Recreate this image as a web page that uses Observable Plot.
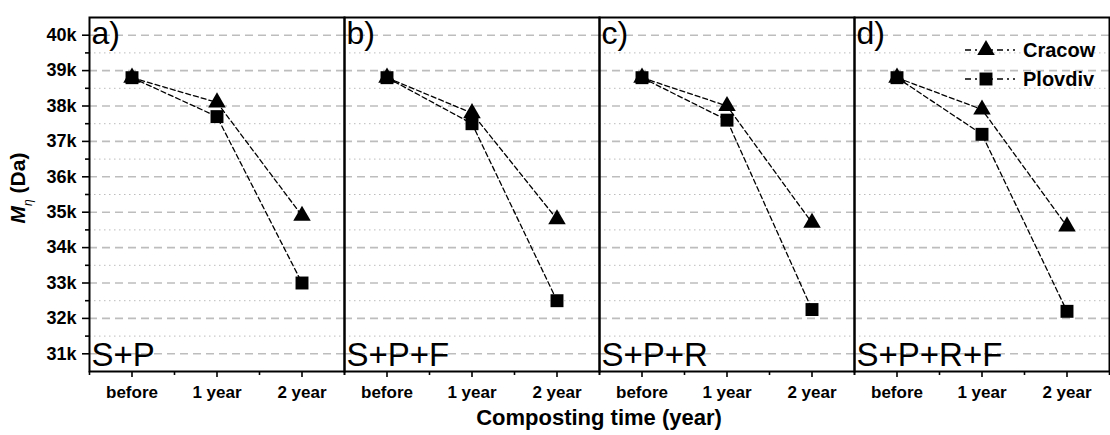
<!DOCTYPE html>
<html>
<head>
<meta charset="utf-8">
<script src="https://cdn.jsdelivr.net/npm/d3@7"></script>
<script src="https://cdn.jsdelivr.net/npm/@observablehq/plot@0.6"></script>
<style>
  html, body { margin: 0; padding: 0; background: white; overflow: hidden; }
  #chart { width: 1110px; height: 435px; }
</style>
</head>
<body>
<div id="chart"></div>
<script>
// ---- data ----
const panels = ["a)", "b)", "c)", "d)"];
const treatments = ["S+P", "S+P+F", "S+P+R", "S+P+R+F"];
const times = ["before", "1 year", "2 year"];
const seriesNames = ["Cracow", "Plovdiv"];
// Mη (Da) per panel, per composting time
const cracow = [
  [38800, 38100, 34900],
  [38800, 37800, 34800],
  [38800, 38000, 34700],
  [38800, 37900, 34600]
];
const plovdiv = [
  [38800, 37700, 33000],
  [38800, 37500, 32500],
  [38800, 37600, 32250],
  [38800, 37200, 32200]
];
const yTicks = [31000, 32000, 33000, 34000, 35000, 36000, 37000, 38000, 39000, 40000];
const yMinorTicks = [31500, 32500, 33500, 34500, 35500, 36500, 37500, 38500, 39500];

// ---- table ----
const rows = [];
panels.forEach((p, i) => {
  times.forEach((t, j) => {
    rows.push({panel: p, series: seriesNames[0], xi: j, value: cracow[i][j]});
    rows.push({panel: p, series: seriesNames[1], xi: j, value: plovdiv[i][j]});
  });
});
const labels = panels.map((p, i) => ({panel: p, treatment: treatments[i]}));
const xIdx = times.map((t, i) => i);
const xMinor = [-0.5].concat(times.map((t, i) => i + 0.5));

const font = "'Liberation Sans', Arial, sans-serif";

const plot = Plot.plot({
  width: 1110,
  height: 435,
  marginLeft: 89,
  marginRight: 1,
  marginTop: 17,
  marginBottom: 64,
  style: {fontFamily: font, color: "black", background: "white", overflow: "visible"},
  fx: {domain: panels, padding: 0, axis: null, label: null},
  x: {domain: [-0.5, times.length - 0.5], axis: null},
  y: {domain: [30500, 40500], axis: null},
  marks: [
    Plot.gridY(yMinorTicks, {stroke: "#bcbcbc", strokeOpacity: 1, strokeWidth: 1, strokeDasharray: "1.5,3.5"}),
    Plot.gridY(yTicks, {stroke: "#bdbdbd", strokeOpacity: 1, strokeWidth: 1.6, strokeDasharray: "8,5"}),
    Plot.axisY({ticks: yTicks, tickFormat: d => d / 1000 + "k", tickSize: 7, tickPadding: 6,
      fontSize: 18, fontWeight: "bold", strokeWidth: 1.6, label: null}),
    Plot.axisY({ticks: yMinorTicks, tickFormat: () => "", tickSize: 4, strokeWidth: 1.6, label: null}),
    Plot.axisX({ticks: xIdx, tickFormat: i => times[i], tickSize: 6, tickPadding: 8,
      fontSize: 17, fontWeight: "bold", strokeWidth: 1.6, label: null}),
    Plot.axisX({ticks: xMinor, tickFormat: () => "", tickSize: 4, strokeWidth: 1.6, label: null}),
    Plot.line(rows, {fx: "panel", x: "xi", y: "value", z: "series", stroke: "black",
      strokeWidth: 1.3, strokeDasharray: "5,3"}),
    Plot.dot(rows.filter(d => d.series === seriesNames[1]), {fx: "panel", x: "xi", y: "value",
      symbol: "square", r: 7.3, fill: "black", stroke: "none"}),
    Plot.dot(rows.filter(d => d.series === seriesNames[0]), {fx: "panel", x: "xi", y: "value",
      symbol: "triangle", r: 6.5, fill: "black", stroke: "none"}),
    Plot.text(labels, {fx: "panel", text: "panel", frameAnchor: "top-left", dx: 2, dy: 4,
      lineAnchor: "top", textAnchor: "start", fontSize: 32, fill: "black"}),
    Plot.text(labels, {fx: "panel", text: "treatment", frameAnchor: "bottom-left", dx: 2, dy: -6,
      lineAnchor: "bottom", textAnchor: "start", fontSize: 33, fill: "black"}),
    Plot.frame({stroke: "black", strokeWidth: 2})
  ]
});
document.getElementById("chart").appendChild(plot);

// ---- titles and legend ----
const svg = d3.select(plot);
svg.append("text")
  .attr("transform", "translate(25,188) rotate(-90)")
  .attr("text-anchor", "middle")
  .attr("font-family", font)
  .attr("font-size", 21)
  .attr("font-weight", "bold")
  .call(t => {
    t.append("tspan").attr("font-style", "italic").text("M");
    t.append("tspan").attr("font-style", "italic").attr("font-size", 12).attr("font-weight", "normal")
      .attr("dy", 7).text("η");
    t.append("tspan").attr("dy", -7).text(" (Da)");
  });

svg.append("text")
  .attr("x", (89 + 1109) / 2)
  .attr("y", 425)
  .attr("text-anchor", "middle")
  .attr("font-family", font)
  .attr("font-size", 22)
  .attr("font-weight", "bold")
  .text("Composting time (year)");

const fx = plot.scale("fx");
const left = fx.apply(panels[3]);
const legendSymbols = [d3.symbolTriangle, d3.symbolSquare];
const legendSizes = [Math.PI * 6.5 * 6.5, Math.PI * 7.3 * 7.3];
seriesNames.forEach((name, i) => {
  const y = 50 + i * 29;
  const g = svg.append("g");
  g.append("line").attr("x1", left + 111).attr("x2", left + 161).attr("y1", y).attr("y2", y)
    .attr("stroke", "black").attr("stroke-width", 1.3).attr("stroke-dasharray", "6,4,2,4");
  g.append("path").attr("transform", `translate(${left + 132},${y})`)
    .attr("d", d3.symbol(legendSymbols[i], legendSizes[i])()).attr("fill", "black");
  g.append("text").attr("x", left + 169).attr("y", y).attr("dy", "0.36em")
    .attr("text-anchor", "start")
    .attr("font-family", font).attr("font-size", 20).attr("font-weight", "bold").text(name);
});
</script>
</body>
</html>
